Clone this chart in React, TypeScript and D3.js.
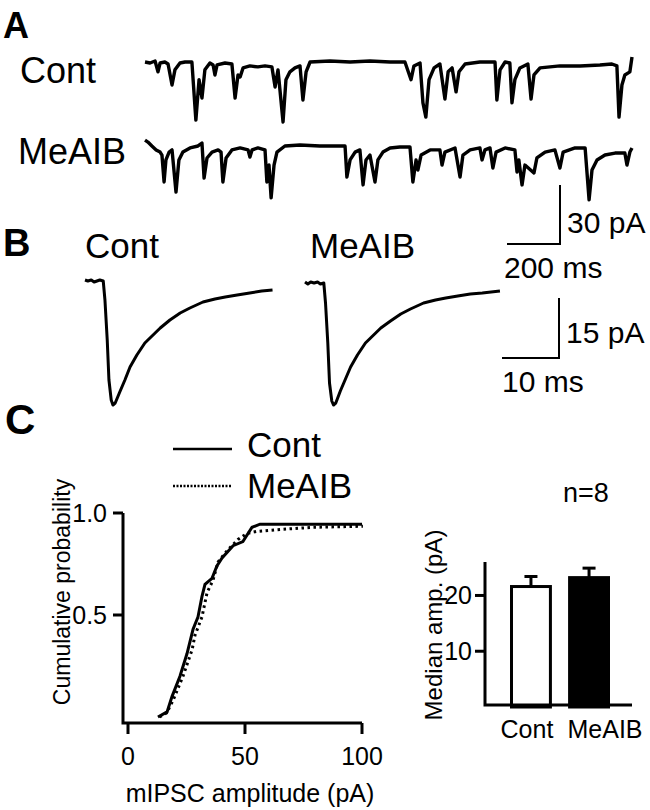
import React from "react";
import * as d3 from "d3";

const FONT = "'Liberation Sans', Arial, Helvetica, sans-serif";

// A: continuous recordings, [time ms, current pA]
const contTraceA: [number, number][] = [
  [0, 0], [19, -0.5], [38, 0.5], [49, -5], [57, -0.5], [75, 0], [87, -1], [102, -11.7], [113, -4],
  [132, -0.5], [151, 0], [177, 0], [192, -29.5], [204, -9], [215, -18.3], [226, -4], [245, -0.5],
  [257, -1.5], [264, -6.6], [272, -1.5], [302, -0.5], [328, -1], [340, -18.3], [351, -6.6],
  [359, -7.6], [370, -3], [396, -2], [426, -2.5], [453, -2], [479, -2.5], [491, -12.7], [502, -4],
  [521, -30.5], [532, -9], [547, -5], [566, -3], [585, -2], [596, -19.3], [608, -5], [623, 0],
  [698, 0.5], [774, 0], [849, 0.5], [925, 0], [981, 0], [1004, -9], [1015, -2], [1038, -0.5],
  [1049, -20.8], [1060, -28], [1072, -9], [1091, -3], [1113, -1], [1132, -18.8], [1144, -5],
  [1159, -3], [1174, -15.2], [1185, -5], [1208, -1], [1264, 0], [1321, 0], [1328, -19.3],
  [1340, -4], [1359, 0], [1377, -0.5], [1385, -20.8], [1396, -9], [1415, -3], [1445, -1],
  [1457, -18.8], [1468, -6.6], [1491, -3], [1566, -2], [1642, -2], [1717, -1.5], [1762, -1],
  [1781, -2], [1789, -28], [1800, -11.7], [1811, -6.6], [1830, -5], [1838, 2.5],
];

const meaibTraceA: [number, number][] = [
  [0, 2.5], [11, 1.5], [26, -0.5], [42, -2.5], [57, -3.6], [64, -5.1], [72, -18.8], [79, -7.6],
  [91, -3.6], [102, -2.5], [117, -23.9], [128, -7.6], [143, -3.6], [170, -1.5], [200, -0.5],
  [215, 1], [223, -16.8], [234, -6.6], [253, -3.6], [276, -2.5], [287, -3.6], [294, -18.8],
  [306, -6.6], [328, -2.5], [359, -1.5], [389, -2.5], [396, -6.1], [404, -2.5], [426, -1.5],
  [453, -2.5], [460, -18.8], [468, -10.2], [476, -26.9], [487, -10.2], [498, -3.6], [528, -0.5],
  [585, 0], [660, -0.5], [736, -0.5], [755, -0.5], [762, -16.3], [774, -7.6], [793, -3.6],
  [811, -2.5], [823, -20.3], [834, -7.6], [849, -5.1], [868, -18.8], [879, -7.6], [898, -3.6],
  [925, -1.5], [962, -1], [1000, -1], [1011, -18.8], [1023, -7.6], [1030, -12.7], [1042, -5.1],
  [1076, -2.5], [1113, -2.5], [1121, -10.2], [1132, -3.6], [1170, -1.5], [1189, -16.3],
  [1200, -5.1], [1227, -2.5], [1264, -1.5], [1272, -7.6], [1283, -2.5], [1302, -1.5],
  [1313, -11.7], [1325, -3.6], [1359, -1.5], [1396, -2.5], [1404, -13.7], [1411, -7.6],
  [1423, -20.3], [1434, -10.2], [1468, -14.2], [1479, -6.6], [1510, -3.6], [1547, -2.5],
  [1566, -11.7], [1578, -3.6], [1623, -1.5], [1661, -1.5], [1676, -27.9], [1687, -12.7],
  [1706, -7.6], [1736, -5.1], [1774, -4.1], [1811, -4.1], [1819, -10.2], [1830, -3.6], [1838, -1.5],
];

// B: averaged mIPSCs, [time ms, current pA]
const contAvgB: [number, number][] = [
  [0, 0.25], [0.5, 0], [1.1, 0.25], [1.6, -0.25], [2.1, 0], [2.6, 0.25], [3.2, 0], [3.5, -4.75],
  [3.9, -14.75], [4.2, -24.75], [4.6, -29.75], [4.9, -31], [5.3, -30.5], [6.1, -27.75], [7.0, -24.75],
  [7.9, -21.5], [9.1, -18.5], [10.5, -15.5], [11.4, -14.25], [13.2, -11.75], [14.9, -9.75],
  [16.7, -8], [18.4, -6.75], [20.7, -5.25], [22.8, -4.5], [24.6, -4], [26.7, -3.5], [28.9, -3],
  [31.0, -2.5], [32.9, -2.25],
];

const meaibAvgB: [number, number][] = [
  [0, 0.25], [0.5, -0.25], [1, 0.25], [1.6, 0], [2.2, 0.25], [2.7, -0.25], [3.3, 0], [3.6, -5],
  [4, -15], [4.3, -25], [4.7, -29.5], [5, -30.5], [5.4, -30], [6.2, -27], [7.1, -24], [8, -21],
  [9.2, -18], [10.6, -15], [11.5, -13.75], [13.3, -11.25], [15, -9.5], [16.8, -7.75], [18.5, -6.5],
  [20.8, -5], [22.9, -4.25], [24.7, -3.75], [26.8, -3.25], [29, -2.75], [31.1, -2.5], [34.2, -2],
];

// C: cumulative distributions, [amplitude pA, probability]
const contCum: [number, number][] = [
  [12.8, 0], [16.7, 0.025], [18.8, 0.1], [22.2, 0.2], [25.2, 0.31], [27.8, 0.43], [29.9, 0.49],
  [31.6, 0.59], [32.9, 0.65], [35.9, 0.68], [38, 0.74], [40.2, 0.78], [44.9, 0.84], [49.1, 0.86],
  [53, 0.93], [56.4, 0.945], [100, 0.945],
];
const meaibCum: [number, number][] = [
  [13.5, 0], [16.5, 0.02], [19.2, 0.08], [23.5, 0.2], [27.4, 0.33], [28.6, 0.4], [31.6, 0.49],
  [33.8, 0.61], [36.3, 0.67], [38.5, 0.76], [42.7, 0.82], [47, 0.87], [50.9, 0.9], [55.1, 0.91],
  [66.2, 0.92], [79, 0.93], [100.4, 0.935],
];
const cumXTicks = [0, 50, 100];
const cumYTicks = [0.5, 1.0];

const barGroups = ["Cont", "MeAIB"];
const barMedians = [21.6, 23.2];
const barSem = [1.8, 1.7];
const barTicks = [10, 20];

function App() {
  // A scales
  const xA = d3.scaleLinear().domain([0, 1838]).range([145, 632]);
  const pA = d3.scaleLinear().domain([0, 30]).range([0, 59]);
  const lineA = (base: number) =>
    d3.line<[number, number]>().x((d) => xA(d[0])).y((d) => base - pA(d[1]));

  // B scales
  const xB = d3.scaleLinear().domain([0, 10]).range([0, 57]);
  const pB = d3.scaleLinear().domain([0, 15]).range([0, 60]);
  const lineB = (x0: number, base: number) =>
    d3.line<[number, number]>().x((d) => x0 + xB(d[0])).y((d) => base - pB(d[1]));

  // C scales
  const xC = d3.scaleLinear().domain([0, 100]).range([128, 362]);
  const yC = d3.scaleLinear().domain([0, 1]).range([717, 513]);
  const lineC = d3.line<[number, number]>().x((d) => xC(d[0])).y((d) => yC(d[1]));

  // bar scales
  const xBar = d3.scaleBand<string>().domain(barGroups).range([511.5, 608.5]).paddingInner(0.33);
  const yBar = d3.scaleLinear().domain([0, 26]).range([707, 562]);
  const labelShift = [-4, 16];

  const txt = { fontFamily: FONT, fill: "#000" } as const;

  return (
    <svg width={650} height={810} style={{ position: "absolute", left: 0, top: 0, background: "#fff" }}>
      <rect width={650} height={810} fill="#fff" />

      {/* ---- A ---- */}
      <text x={3} y={38} fontSize={36} fontWeight="bold" {...txt}>A</text>
      <text x={20} y={83} fontSize={36} {...txt}>Cont</text>
      <text x={18} y={164} fontSize={36} {...txt}>MeAIB</text>
      <path d={lineA(62)(contTraceA) || ""} fill="none" stroke="#000" strokeWidth={3.4} strokeLinejoin="round" />
      <path d={lineA(145)(meaibTraceA) || ""} fill="none" stroke="#000" strokeWidth={3.4} strokeLinejoin="round" />
      {/* scale bar A */}
      <path
        d={`M${560 - (xA(200) - xA(0))},244H560V${244 - pA(30)}`}
        fill="none" stroke="#000" strokeWidth={2}
      />
      <text x={567} y={233} fontSize={30} {...txt}>30 pA</text>
      <text x={504} y={278} fontSize={30} {...txt}>200 ms</text>

      {/* ---- B ---- */}
      <text x={3} y={256} fontSize={38} fontWeight="bold" {...txt}>B</text>
      <text x={85} y={258} fontSize={35} {...txt}>Cont</text>
      <text x={310} y={258} fontSize={35} {...txt}>MeAIB</text>
      <path d={lineB(85, 281)(contAvgB) || ""} fill="none" stroke="#000" strokeWidth={3} strokeLinejoin="round" />
      <path d={lineB(305, 283)(meaibAvgB) || ""} fill="none" stroke="#000" strokeWidth={3} strokeLinejoin="round" />
      <path
        d={`M${559 - xB(10)},358H559V${358 - pB(15)}`}
        fill="none" stroke="#000" strokeWidth={2}
      />
      <text x={566} y={343} fontSize={30} {...txt}>15 pA</text>
      <text x={502} y={392} fontSize={30} {...txt}>10 ms</text>

      {/* ---- C ---- */}
      <text x={5} y={434} fontSize={42} fontWeight="bold" {...txt}>C</text>
      <line x1={173} x2={232} y1={449} y2={449} stroke="#000" strokeWidth={2.5} />
      <line x1={173} x2={232} y1={486} y2={486} stroke="#000" strokeWidth={2.5} strokeDasharray="2 1.5" />
      <text x={247} y={457} fontSize={35} {...txt}>Cont</text>
      <text x={247} y={498} fontSize={35} {...txt}>MeAIB</text>

      {/* cumulative axes */}
      <path d={`M123,${yC(1)}V723H${xC(100)}`} fill="none" stroke="#000" strokeWidth={3} />
      {cumYTicks.map((t) => (
        <g key={t}>
          <line x1={113} x2={123} y1={yC(t)} y2={yC(t)} stroke="#000" strokeWidth={3} />
          <text x={107} y={yC(t) + 9} fontSize={25} textAnchor="end" {...txt}>{t.toFixed(1)}</text>
        </g>
      ))}
      {cumXTicks.map((t) => (
        <g key={t}>
          <line x1={xC(t)} x2={xC(t)} y1={723} y2={734} stroke="#000" strokeWidth={3} />
          <text x={xC(t)} y={765} fontSize={25} textAnchor="middle" {...txt}>{t}</text>
        </g>
      ))}
      <text x={250} y={802} fontSize={25} textAnchor="middle" {...txt}>mIPSC amplitude (pA)</text>
      <text transform="translate(70,592) rotate(-90)" fontSize={23} textAnchor="middle" {...txt}>
        Cumulative probability
      </text>
      <path d={lineC(contCum) || ""} fill="none" stroke="#000" strokeWidth={3} />
      <path d={lineC(meaibCum) || ""} fill="none" stroke="#000" strokeWidth={3} strokeDasharray="2.5 3.5" />

      {/* bar chart */}
      <text x={563} y={502} fontSize={27} {...txt}>n=8</text>
      <text transform="translate(442,625) rotate(-90)" fontSize={24} textAnchor="middle" {...txt}>
        Median amp. (pA)
      </text>
      {barGroups.map((g, i) => {
        const cx = (xBar(g) || 0) + xBar.bandwidth() / 2;
        return (
          <g key={g}>
            <line x1={cx} x2={cx} y1={yBar(barMedians[i])} y2={yBar(barMedians[i] + barSem[i])} stroke="#000" strokeWidth={3} />
            <line x1={cx - 6.5} x2={cx + 6.5} y1={yBar(barMedians[i] + barSem[i])} y2={yBar(barMedians[i] + barSem[i])} stroke="#000" strokeWidth={3} />
            <rect
              x={xBar(g)}
              y={yBar(barMedians[i])}
              width={xBar.bandwidth()}
              height={yBar(0) - yBar(barMedians[i])}
              fill={i === 0 ? "#fff" : "#000"}
              stroke="#000"
              strokeWidth={3}
            />
            <text x={cx + labelShift[i]} y={738} fontSize={25} textAnchor="middle" {...txt}>{g}</text>
          </g>
        );
      })}
      <path d={`M485,${yBar(26)}V705H632`} fill="none" stroke="#000" strokeWidth={3} />
      {barTicks.map((t) => (
        <g key={t}>
          <line x1={475} x2={485} y1={yBar(t)} y2={yBar(t)} stroke="#000" strokeWidth={3} />
          <text x={472} y={yBar(t) + 9} fontSize={25} textAnchor="end" {...txt}>{t}</text>
        </g>
      ))}
    </svg>
  );
}

export default App;
